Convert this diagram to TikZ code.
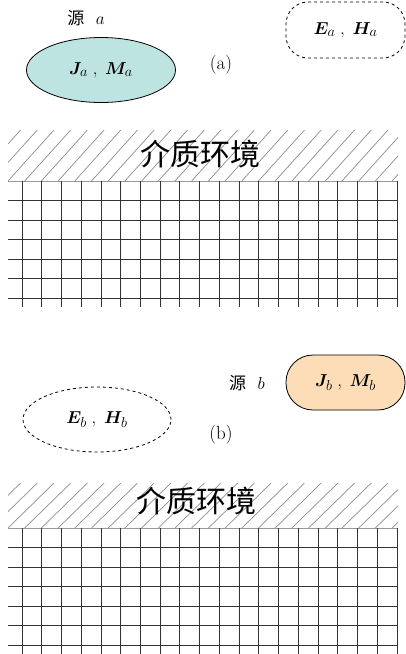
\documentclass[tikz,border=0pt]{standalone}
\usepackage{amsmath,bm}
\usepackage{fontspec}
\newfontfamily\cjk{Noto Sans CJK SC}
\usetikzlibrary{shapes.geometric}
\definecolor{srcA}{HTML}{BDE4E0}
\definecolor{srcB}{HTML}{FDDDB8}
\tikzset{
  gridline/.style={black!80,line width=0.9pt},
  hatchline/.style={black!45,line width=0.7pt},
  lbl/.style={font=\fontsize{19}{22}\selectfont,inner sep=0pt},
  fieldtxt/.style={font=\fontsize{19}{22}\selectfont,inner sep=0pt},
}
\newcommand{\medium}[2]{% #1 = hatch top, #2 = grid top
  \begin{scope}
    \clip (8,#1) rectangle (398,#2);
    \foreach \k in {-4,...,26} {
      \draw[hatchline] ({8+\k*16.7},#2) -- ({8+\k*16.7+46},#1);
    }
  \end{scope}
  \draw[black!40,line width=0.9pt] (8,#2) -- (398,#2);
  \foreach \j in {1,...,6} {
    \draw[gridline] (8,{#2+\j*19.55}) -- (398,{#2+\j*19.55});
  }
  \foreach \i in {0,...,19} {
    \draw[gridline] ({22+\i*19.74},#2) -- ({22+\i*19.74},{#2+126});
  }
}
\begin{document}
\begin{tikzpicture}[x=1pt,y=-1pt]
\useasboundingbox (0,0) rectangle (406,654);
% ---------- (a)
\node[lbl] (srca) at (86,18) {{\cjk\fontsize{17}{20}\selectfont 源}\ \ $a$};
\node[ellipse,draw=black,line width=0.8pt,fill=srcA,minimum width=149pt,minimum height=65pt,inner sep=0pt,fieldtxt] (Ja) at (101,70) {$\bm{J}_{a}\;,\;\bm{M}_{a}$};
\node[lbl] (la) at (221,65) {(a)};
\node[draw=black,dashed,line width=0.8pt,rounded corners=22pt,minimum width=119pt,minimum height=56pt,inner sep=0pt,fieldtxt] (Ea) at (345.5,30) {$\bm{E}_{a}\;,\;\bm{H}_{a}$};
\medium{130}{181}
\node[inner sep=0pt,font=\fontsize{30}{32}\selectfont\cjk] (meda) at (200,154) {介质环境};
% ---------- (b)
\node[lbl] (srcb) at (247,383) {{\cjk\fontsize{17}{20}\selectfont 源}\ \ $b$};
\node[draw=black,line width=0.8pt,fill=srcB,rounded corners=27pt,minimum width=119pt,minimum height=55pt,inner sep=0pt,fieldtxt] (Jb) at (345.5,382.5) {$\bm{J}_{b}\;,\;\bm{M}_{b}$};
\node[ellipse,draw=black,dashed,line width=0.8pt,minimum width=148pt,minimum height=65pt,inner sep=0pt,fieldtxt] (Eb) at (97,419.5) {$\bm{E}_{b}\;,\;\bm{H}_{b}$};
\node[lbl] (lb) at (221,435) {(b)};
\medium{483}{528}
\node[inner sep=0pt,font=\fontsize{30}{32}\selectfont\cjk] (medb) at (196,501) {介质环境};
\end{tikzpicture}
\end{document}
